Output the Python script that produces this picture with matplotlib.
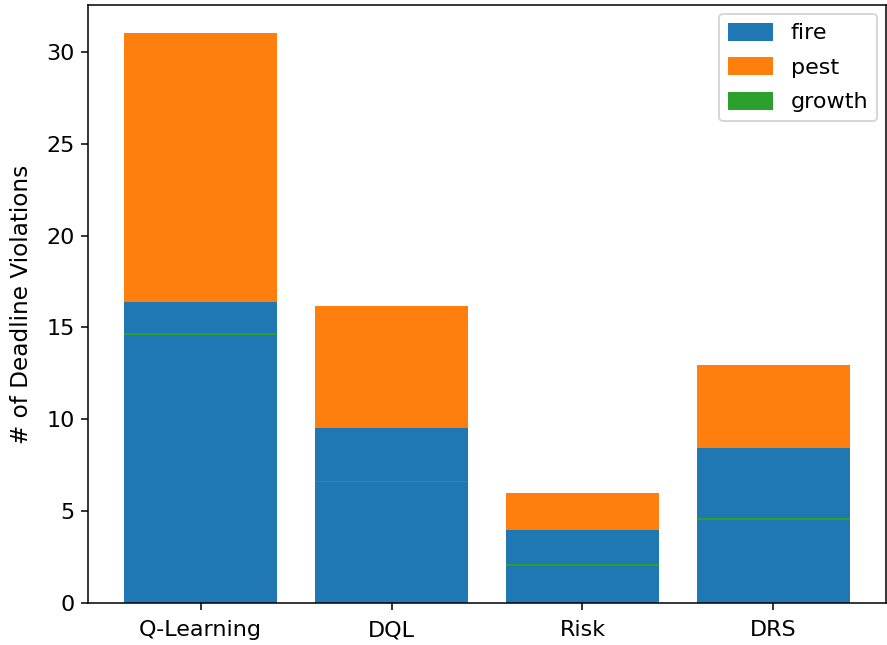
import matplotlib
matplotlib.use("Agg")
import matplotlib.pyplot as plt
import numpy as np

methods = ["Q-Learning", "DQL", "Risk", "DRS"]
fire = [16.4, 9.55, 4.0, 8.45]
pest = [14.6, 6.6, 2.0, 4.5]
growth = [0.12, 0.06, 0.12, 0.12]

plt.rcParams["font.size"] = 11.6
dpi = 138.6
fig = plt.figure(figsize=(887 / dpi, 645 / dpi), dpi=dpi)
ax = fig.add_axes([88 / 887, 42 / 645, 798 / 887, 598 / 645])

x = np.arange(len(methods))
fire_a = np.array(fire)
pest_a = np.array(pest)
ax.bar(x, fire_a, 0.8, label="fire", color="#1f77b4")
ax.bar(x, pest_a, 0.8, bottom=fire_a, label="pest", color="#ff7f0e")
ax.bar(x, growth, 0.8, bottom=pest_a, label="growth", color="#2ca02c")

ax.set_xticks(x)
ax.set_xticklabels(methods)
ax.tick_params(axis="x", pad=5.5)
ax.set_ylabel("# of Deadline Violations", fontsize=12, labelpad=7)
ax.legend(loc="upper right", labelspacing=0.62, handleheight=0.85,
          borderaxespad=0.4)

fig.savefig("out.png", dpi=dpi)
